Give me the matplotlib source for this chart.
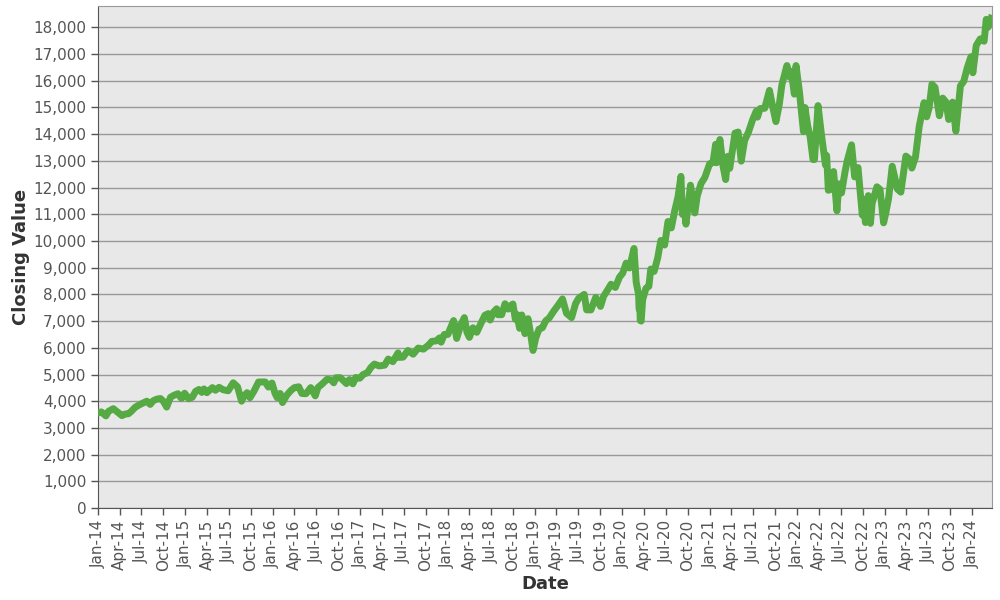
import matplotlib.pyplot as plt
import matplotlib.dates as mdates
import matplotlib.ticker as mticker
import pandas as pd

# 收盘值
dates = [
    "2014-01-02", "2014-01-15", "2014-02-03", "2014-02-14", "2014-03-06", "2014-03-20",
    "2014-04-11", "2014-04-25", "2014-05-08", "2014-05-20", "2014-06-05", "2014-06-20",
    "2014-07-03", "2014-07-24", "2014-08-07", "2014-08-20", "2014-09-05", "2014-09-19",
    "2014-10-01", "2014-10-15", "2014-10-31", "2014-11-14", "2014-12-01", "2014-12-16",
    "2014-12-29", "2015-01-15", "2015-01-30", "2015-02-13", "2015-02-27", "2015-03-11",
    "2015-03-20", "2015-04-01", "2015-04-24", "2015-05-07", "2015-05-22", "2015-06-08",
    "2015-06-29", "2015-07-20", "2015-08-07", "2015-08-24", "2015-09-01", "2015-09-16",
    "2015-09-28", "2015-10-15", "2015-11-03", "2015-11-20", "2015-12-01", "2015-12-14",
    "2015-12-29", "2016-01-11", "2016-01-20", "2016-02-01", "2016-02-11", "2016-03-01",
    "2016-03-17", "2016-04-01", "2016-04-19", "2016-05-02", "2016-05-19", "2016-06-08",
    "2016-06-27", "2016-07-08", "2016-07-25", "2016-08-15", "2016-09-01", "2016-09-12",
    "2016-09-22", "2016-10-10", "2016-11-04", "2016-11-17", "2016-12-01", "2016-12-13",
    "2016-12-30", "2017-01-13", "2017-01-31", "2017-02-15", "2017-03-01", "2017-03-21",
    "2017-04-13", "2017-04-28", "2017-05-17", "2017-06-08", "2017-06-12", "2017-06-29",
    "2017-07-19", "2017-08-10", "2017-08-31", "2017-09-22", "2017-10-13", "2017-10-27",
    "2017-11-15", "2017-11-28", "2017-12-05", "2017-12-18", "2018-01-02", "2018-01-26",
    "2018-02-08", "2018-02-26", "2018-03-12", "2018-03-23", "2018-04-02", "2018-04-17",
    "2018-05-03", "2018-05-18", "2018-06-06", "2018-06-20", "2018-06-28", "2018-07-12",
    "2018-07-25", "2018-07-30", "2018-08-15", "2018-08-29", "2018-09-11", "2018-09-20",
    "2018-10-01", "2018-10-11", "2018-10-17", "2018-10-29", "2018-11-07", "2018-11-20",
    "2018-12-03", "2018-12-14", "2018-12-24", "2019-01-04", "2019-01-18", "2019-02-01",
    "2019-02-15", "2019-03-01", "2019-03-21", "2019-04-05", "2019-04-26", "2019-05-13",
    "2019-06-03", "2019-06-20", "2019-07-03", "2019-07-26", "2019-08-05", "2019-08-23",
    "2019-09-12", "2019-10-02", "2019-10-15", "2019-11-01", "2019-11-15", "2019-12-03",
    "2019-12-20", "2020-01-03", "2020-01-17", "2020-01-31", "2020-02-19", "2020-02-28",
    "2020-03-09", "2020-03-12", "2020-03-13", "2020-03-16", "2020-03-20", "2020-03-26",
    "2020-04-09", "2020-04-21", "2020-04-29", "2020-05-13", "2020-05-28", "2020-06-10",
    "2020-06-26", "2020-07-10", "2020-07-24", "2020-08-07", "2020-08-21", "2020-09-02",
    "2020-09-08", "2020-09-16", "2020-09-23", "2020-10-12", "2020-10-30", "2020-11-09",
    "2020-11-25", "2020-12-11", "2020-12-31", "2021-01-14", "2021-01-25", "2021-01-29",
    "2021-02-12", "2021-02-25", "2021-03-08", "2021-03-17", "2021-03-25", "2021-04-16",
    "2021-04-29", "2021-05-12", "2021-05-26", "2021-06-11", "2021-06-29", "2021-07-14",
    "2021-07-19", "2021-07-30", "2021-08-18", "2021-09-07", "2021-09-20", "2021-10-04",
    "2021-10-18", "2021-10-29", "2021-11-19", "2021-11-30", "2021-12-07", "2021-12-20",
    "2021-12-27", "2022-01-10", "2022-01-27", "2022-02-02", "2022-02-14", "2022-02-24",
    "2022-03-08", "2022-03-14", "2022-03-29", "2022-04-12", "2022-04-29", "2022-05-04",
    "2022-05-11", "2022-05-20", "2022-06-02", "2022-06-16", "2022-06-24", "2022-07-05",
    "2022-07-20", "2022-07-29", "2022-08-16", "2022-08-29", "2022-09-12", "2022-09-30",
    "2022-10-04", "2022-10-13", "2022-10-25", "2022-11-03", "2022-11-10", "2022-11-30",
    "2022-12-13", "2022-12-28", "2023-01-06", "2023-01-18", "2023-02-02", "2023-02-24",
    "2023-03-10", "2023-03-31", "2023-04-18", "2023-04-25", "2023-05-10", "2023-05-26",
    "2023-06-15", "2023-06-26", "2023-07-06", "2023-07-18", "2023-07-31", "2023-08-18",
    "2023-09-01", "2023-09-15", "2023-09-26", "2023-10-12", "2023-10-26", "2023-11-14",
    "2023-11-28", "2023-12-13", "2023-12-28", "2024-01-05", "2024-01-19", "2024-02-05",
    "2024-02-21", "2024-03-01", "2024-03-08", "2024-03-21",
]
closing = [
    3560, 3600, 3450, 3620, 3720, 3620,
    3460, 3520, 3530, 3620, 3770, 3850,
    3910, 4000, 3880, 4020, 4080, 4100,
    4000, 3780, 4150, 4220, 4280, 4100,
    4300, 4090, 4150, 4370, 4440, 4330,
    4460, 4320, 4510, 4410, 4520, 4430,
    4390, 4690, 4540, 4000, 4160, 4320,
    4130, 4380, 4720, 4720, 4720, 4530,
    4680, 4290, 4130, 4290, 3950, 4240,
    4400, 4510, 4540, 4290, 4280, 4510,
    4200, 4510, 4640, 4820, 4800, 4690,
    4880, 4880, 4660, 4810, 4650, 4890,
    4860, 5000, 5070, 5270, 5390, 5320,
    5350, 5580, 5480, 5810, 5640, 5650,
    5900, 5760, 5990, 5950, 6100, 6240,
    6260, 6370, 6210, 6500, 6500, 7020,
    6350, 6880, 7130, 6580, 6390, 6750,
    6580, 6870, 7220, 7280, 7040, 7340,
    7460, 7240, 7240, 7650, 7450, 7570,
    7640, 7070, 7250, 6730, 7230, 6530,
    7090, 6520, 5900, 6360, 6700, 6750,
    7010, 7110, 7380, 7560, 7830, 7290,
    7130, 7660, 7860, 8000, 7420, 7420,
    7890, 7550, 7930, 8170, 8380, 8260,
    8640, 8800, 9170, 8990, 9720, 8460,
    8000, 7440, 7990, 7020, 7000, 7800,
    8230, 8300, 8950, 8860, 9370, 10020,
    9850, 10730, 10490, 11130, 11660, 12420,
    11000, 11250, 10630, 12090, 11050, 11680,
    12150, 12380, 12890, 12940, 13620, 12930,
    13800, 12800, 12300, 13170, 12720, 14040,
    14080, 12990, 13760, 14070, 14550, 14870,
    14640, 14960, 14970, 15640, 15050, 14470,
    15110, 15850, 16570, 16140, 16350, 15500,
    16570, 15610, 14100, 15000, 14310, 13900,
    13050, 13050, 15070, 14000, 12850, 13200,
    11900, 11930, 12600, 11130, 12140, 11800,
    12600, 13000, 13600, 12400, 12750, 10970,
    11550, 10690, 11700, 10660, 11400, 12030,
    11930, 10680, 11040, 11600, 12800, 11940,
    11830, 13180, 13050, 12730, 13130, 14300,
    15180, 14650, 14970, 15870, 15750, 14690,
    15350, 15200, 14550, 15200, 14110, 15810,
    15980, 16500, 16900, 16300, 17320, 17570,
    17480, 18300, 18000, 18340,
]

df = pd.DataFrame({"Date": pd.to_datetime(dates), "Close": closing})

fig = plt.figure(figsize=(10, 6), dpi=100)
ax = fig.add_axes([0.098, 0.1533, 0.894, 0.8367])
ax.set_facecolor("#e8e8e8")

ax.plot(df["Date"], df["Close"], color="#55aa44", linewidth=5.0, zorder=3)

ax.set_xlim(pd.Timestamp("2014-01-01"), pd.Timestamp("2024-03-25"))
ax.set_ylim(0, 18800)

ax.yaxis.set_major_locator(mticker.MultipleLocator(1000))
ax.yaxis.set_major_formatter(mticker.StrMethodFormatter("{x:,.0f}"))
ax.grid(axis="y", color="#999999", linewidth=1.0, zorder=1)
ax.set_axisbelow(True)

ax.xaxis.set_major_locator(mdates.MonthLocator(bymonth=[1, 4, 7, 10]))
ax.xaxis.set_major_formatter(mdates.DateFormatter("%b-%y"))
plt.setp(ax.get_xticklabels(), rotation=90)

ax.tick_params(axis="both", labelsize=11, labelcolor="#555555", color="#555555",
               length=5, width=1)

for side in ["top", "right"]:
    ax.spines[side].set_color("#999999")
for side in ["left", "bottom"]:
    ax.spines[side].set_color("#555555")

ax.set_xlabel("Date", fontsize=13, fontweight="bold", color="#333333")
ax.set_ylabel("Closing Value", fontsize=13, fontweight="bold", color="#333333")
ax.xaxis.set_label_coords(0.5, -0.1335)
ax.yaxis.set_label_coords(-0.076, 0.5)

fig.savefig("out.png", dpi=100)
